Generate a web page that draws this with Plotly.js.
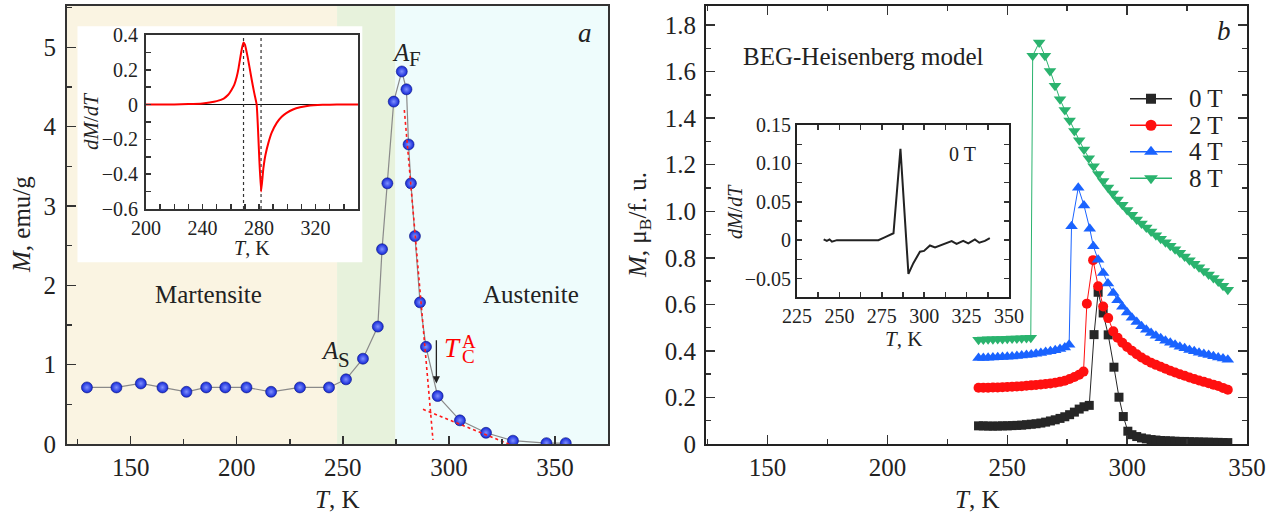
<!DOCTYPE html>
<html><head><meta charset="utf-8">
<script src="https://cdn.plot.ly/plotly-3.0.1.min.js"></script>
<style>html,body{margin:0;padding:0;background:#fff;} #chart{width:1277px;height:513px;}</style>
</head><body><div id="chart"></div>
<script>
// ---------- Panel a: measured M(T) ----------
const tA = [129.4,143.3,154.8,165,176.3,185.6,194.6,204.6,216.2,229.8,243.5,251.5,259.5,266.5,268.5,271,274,277.8,280,281,282.1,284,286.4,289.2,294.7,305.2,317.5,330.2,346,355.1];
const mA = [0.713,0.713,0.763,0.713,0.658,0.713,0.713,0.713,0.658,0.713,0.713,0.815,1.075,1.48,2.455,3.285,4.315,4.695,4.47,3.775,3.285,2.62,1.785,1.225,0.605,0.298,0.141,0.042,0.011,0.011];
// phase regions (K)
const regionBounds = [120, 247.3, 274.8, 375];
const regionColors = ['rgb(250,244,226)','rgb(231,242,220)','rgb(238,252,252)'];
// tangent (dashed) lines for Tc construction
const tangent1T = [279, 292.5], tangent1M = [4.21, 0.05];
const tangent2T = [287.8, 335.2], tangent2M = [0.437, -0.075];
// inset a: dM/dT
const tD = [200,220,230,240,245,250,255,258,260.6,262.5,264.2,265.5,266.5,267.8,269,270,272,274.8,276.5,278.3,281.4,283,284.5,286.6,289,292.5,296,299.5,304,309,314,318.4,325,335,350];
const dD = [0,0.001,0.003,0.007,0.012,0.02,0.035,0.055,0.086,0.115,0.16,0.21,0.26,0.32,0.357,0.345,0.27,0.143,0.07,0,-0.5,-0.37,-0.29,-0.22,-0.16,-0.105,-0.07,-0.048,-0.028,-0.015,-0.008,-0.004,-0.001,0,0];
const markLinesT = [269, 281.4];

// ---------- Panel b: BEG-Heisenberg model ----------
const fieldLabels = ['0 T','2 T','4 T','8 T'];
const T0 = [238,240,242,244,246,248,250,252,254,256,258,260,262,264,266,268,270,272,274,276,278,280,282,284.2,286.2,287.9,290,292.1,294.5,296.6,298.4,300.3,302,304,306,308,310,312,314,316,318,320,322,324,326,328,330,332,334,336,338,340,342];
const M0 = [0.078,0.078,0.077,0.077,0.077,0.078,0.078,0.079,0.080,0.081,0.083,0.085,0.087,0.090,0.094,0.099,0.104,0.110,0.117,0.126,0.137,0.150,0.160,0.166,0.47,0.652,0.563,0.469,0.33,0.201,0.118,0.055,0.04,0.032,0.026,0.022,0.019,0.017,0.015,0.014,0.013,0.012,0.011,0.011,0.010,0.009,0.009,0.008,0.008,0.007,0.007,0.006,0.006];
const T2 = [238,240,242,244,246,248,250,252,254,256,258,260,262,264,266,268,270,272,274,276,278,280,281.8,283.2,285.8,287.9,290,292.1,294.2,296,298,300,302,304,306,308,310,312,314,316,318,320,322,324,326,328,330,332,334,336,338,340,342];
const M2 = [0.242,0.242,0.242,0.243,0.243,0.244,0.245,0.246,0.247,0.248,0.25,0.252,0.254,0.256,0.258,0.260,0.263,0.267,0.272,0.279,0.288,0.298,0.311,0.603,0.79,0.678,0.591,0.541,0.484,0.457,0.435,0.417,0.401,0.386,0.372,0.36,0.349,0.34,0.332,0.323,0.315,0.307,0.3,0.293,0.286,0.279,0.273,0.267,0.261,0.255,0.249,0.241,0.233];
const T4 = [238,240,242,244,246,248,250,252,254,256,258,260,262,264,266,268,270,272,274,275.8,276.8,279.6,282,284.4,285.9,287.9,290,292,294.2,296,298,300,302,304,306,308,310,312,314,316,318,320,322,324,326,328,330,332,334,336,338,340,342];
const M4 = [0.37,0.37,0.371,0.372,0.373,0.374,0.375,0.376,0.378,0.38,0.382,0.385,0.388,0.391,0.395,0.399,0.403,0.408,0.415,0.426,0.936,1.101,1.025,0.925,0.85,0.792,0.735,0.69,0.649,0.618,0.59,0.565,0.543,0.524,0.506,0.491,0.477,0.465,0.454,0.444,0.435,0.426,0.418,0.411,0.404,0.398,0.392,0.387,0.382,0.377,0.372,0.367,0.362];
const T8 = [238,240,242,244,246,248,250,252,254,256,258,259.8,260.6,263.3,265.7,267.8,269.9,272,274,276,278,280,282,284,286,288,290,292,294,296,298,300,302,304,306,308,310,312,314,316,318,320,322,324,326,328,330,332,334,336,338,340,342];
const M8 = [0.448,0.449,0.45,0.45,0.451,0.451,0.452,0.453,0.453,0.454,0.455,0.456,1.668,1.725,1.668,1.603,1.539,1.481,1.435,1.39,1.345,1.305,1.265,1.228,1.193,1.16,1.13,1.102,1.076,1.051,1.028,1.005,0.985,0.965,0.947,0.93,0.913,0.897,0.882,0.867,0.852,0.837,0.822,0.806,0.79,0.775,0.759,0.743,0.728,0.713,0.698,0.68,0.663];
const seriesT = [T0,T2,T4,T8], seriesM = [M0,M2,M4,M8];
const seriesColors = ['#262626','#ff1010','#1a63ff','#2ab36e'];
const seriesSymbols = ['square','circle','triangle-up','triangle-down'];
const seriesSizes = [9,10,11,11];
// inset b: dM/dT at 0 T
const tdB = [240.7,242.6,244.2,245.6,248.5,255,265,273,277,281.9,286,290.7,293.6,297.5,299.9,303.4,306.4,309.3,313.2,316.2,319.1,323,326,329.9,332.5,335.8,338.7];
const dB = [0.001,-0.001,0.001,-0.002,0,0,0,0,0.004,0.009,0.119,-0.044,-0.030,-0.015,-0.014,-0.007,-0.0095,-0.007,-0.0034,-0.0013,-0.005,-0.001,-0.0043,0.001,-0.0034,-0.001,0.0026];

// ---------- layout helpers ----------
const W = 1277, H = 513;
const FONT = 'Liberation Serif, Times New Roman, serif';
const TXT = '#222';
const px = x => x / W, py = y => (H - y) / H;
const yMaxA = 5.52;

function ax(o) {
  return Object.assign({
    showline: true, linecolor: '#333', linewidth: 2, ticks: 'inside', tickcolor: '#333',
    tickwidth: 1.5, showgrid: false, zeroline: false, fixedrange: true,
    tickfont: {family: FONT, size: 25, color: TXT}
  }, o);
}

const traces = [];
// panel a main
traces.push({x: tA, y: mA, xaxis: 'x', yaxis: 'y', type: 'scatter', mode: 'lines+markers',
  line: {color: '#8a8a8a', width: 1.2},
  marker: {size: 11, color: '#1226d6', line: {width: 0.6, color: '#0a1480'}, gradient: {type: 'radial', color: '#7f90ff'}}});
traces.push({x: tangent1T, y: tangent1M, xaxis: 'x', yaxis: 'y', mode: 'lines', line: {color: '#ff1a1a', width: 1.6, dash: 'dot'}});
traces.push({x: tangent2T, y: tangent2M, xaxis: 'x', yaxis: 'y', mode: 'lines', line: {color: '#ff1a1a', width: 1.6, dash: 'dot'}});
// inset a
markLinesT.forEach(t => traces.push({x: [t, t], y: [-0.6, 0.4], xaxis: 'x2', yaxis: 'y2', mode: 'lines', line: {color: '#333', width: 1.2, dash: 'dot'}}));
traces.push({x: tD, y: dD, xaxis: 'x2', yaxis: 'y2', mode: 'lines', line: {color: '#ff0000', width: 2, shape: 'spline', smoothing: 0.5}});
// panel b
for (let i = 0; i < 4; i++) {
  traces.push({x: seriesT[i], y: seriesM[i], name: fieldLabels[i], xaxis: 'x3', yaxis: 'y3', mode: 'lines+markers',
    line: {color: seriesColors[i], width: 1}, marker: {symbol: seriesSymbols[i], size: seriesSizes[i], color: seriesColors[i]}});
}
// inset b
traces.push({x: tdB, y: dB, xaxis: 'x4', yaxis: 'y4', mode: 'lines', line: {color: '#222', width: 2}});
// legend key for panel b (own hidden axes: one row per field, key line spans 0..1)
fieldLabels.forEach((lab, i) => {
  traces.push({x: [0, 1], y: [i, i], xaxis: 'x5', yaxis: 'y5', mode: 'lines', line: {color: seriesColors[i], width: 1.5}, hoverinfo: 'skip'});
  traces.push({x: [0.5], y: [i], xaxis: 'x5', yaxis: 'y5', mode: 'markers', marker: {symbol: seriesSymbols[i], size: seriesSizes[i] + 1, color: seriesColors[i]}, hoverinfo: 'skip'});
});

const shapes = [];
for (let i = 0; i < 3; i++) {
  shapes.push({type: 'rect', xref: 'x', yref: 'y', x0: regionBounds[i], x1: regionBounds[i+1], y0: 0, y1: yMaxA, line: {width: 0}, fillcolor: regionColors[i], layer: 'below'});
}
// white backdrop of inset a
shapes.push({type: 'rect', xref: 'x', yref: 'y', x0: 124.95, x1: 259.2, y0: 2.292, y1: 5.265, line: {width: 0}, fillcolor: '#ffffff', layer: 'below'});

function ann(text, x, y, xref, yref, size, extra) {
  return Object.assign({text, x, y, xref, yref, showarrow: false, xanchor: 'center', yanchor: 'middle',
    font: {family: FONT, size, color: TXT}}, extra || {});
}
const red = s => ({font: {family: FONT, size: s, color: '#ff0000'}});
const annotations = [
  ann('Martensite', 186.5, 1.88, 'x', 'y', 25),
  ann('Austenite', 338.7, 1.88, 'x', 'y', 25),
  ann('<i>A</i>', 277.5, 4.94, 'x', 'y', 25),
  ann('F', 283.9, 4.85, 'x', 'y', 21),
  ann('<i>A</i>', 243.9, 1.174, 'x', 'y', 25),
  ann('S', 250.5, 1.058, 'x', 'y', 21),
  ann('<i>T</i>', 301.6, 1.215, 'x', 'y', 27, red(27)),
  ann('A', 309.4, 1.29, 'x', 'y', 19, red(19)),
  ann('C', 309.4, 1.1, 'x', 'y', 19, red(19)),
  ann('<i>a</i>', 364.3, 5.18, 'x', 'y', 27),
  {x: 294.1, y: 0.764, ax: 294.1, ay: 1.414, axref: 'x', ayref: 'y', xref: 'x', yref: 'y', text: ' ', showarrow: true, arrowhead: 2, arrowsize: 1.1, arrowwidth: 1.3, arrowcolor: '#222'},
  ann('BEG-Heisenberg model', 189.8, 1.665, 'x3', 'y3', 25),
  ann('<i>b</i>', 340.4, 1.774, 'x3', 'y3', 27),
  ann('0 T', 322.8, 0.112, 'x4', 'y4', 20),
  // axis titles
  ann('<i>T</i>, K', px(337.5), py(499), 'paper', 'paper', 25),
  ann('<i>T</i>, K', px(976.5), py(499), 'paper', 'paper', 25),
  ann('<i>M</i>, emu/g', px(21), py(225), 'paper', 'paper', 25, {textangle: -90}),
  ann('<i>M</i>, μ<sub>B</sub>/f. u.', px(639), py(225), 'paper', 'paper', 25, {textangle: -90}),
  ann('<i>T</i>, K', px(252), py(248), 'paper', 'paper', 20),
  ann('<i>dM</i>/<i>dT</i>', px(91), py(122), 'paper', 'paper', 21, {textangle: -90}),
  ann('<i>T</i>, K', px(903), py(339), 'paper', 'paper', 21),
  ann('<i>dM</i>/<i>dT</i>', px(735), py(212), 'paper', 'paper', 20, {textangle: -90})
];
// legend labels
fieldLabels.forEach((lab, i) => annotations.push(ann(lab, 1.36, i, 'x5', 'y5', 25, {xanchor: 'left'})));

const minorIn = (dtick, len, tick0) => ({dtick, tick0: tick0 || 0, ticklen: len, ticks: 'inside', tickcolor: '#333', tickwidth: 1.5});
const smallFont = {family: FONT, size: 20, color: TXT};

const layout = {
  width: W, height: H, margin: {l: 0, r: 0, t: 0, b: 0},
  paper_bgcolor: '#ffffff', plot_bgcolor: 'rgba(0,0,0,0)',
  font: {family: FONT, color: TXT},
  showlegend: false,
  xaxis: ax({domain: [px(67), px(608)], range: [120, 375], anchor: 'y', mirror: true, dtick: 50, tick0: 0, ticklen: 8,
    minor: minorIn(25, 5)}),
  yaxis: ax({domain: [py(444), py(6)], range: [0, yMaxA], anchor: 'x', mirror: true, dtick: 1, tick0: 0, ticklen: 9,
    ticklabelstandoff: 4, minor: minorIn(0.5, 5)}),
  xaxis2: ax({domain: [px(146), px(358)], range: [200, 350], anchor: 'y2', mirror: true, dtick: 40, tick0: 200, ticklen: 5,
    tickfont: smallFont, minor: minorIn(10, 5)}),
  yaxis2: ax({domain: [py(209), py(35)], range: [-0.6, 0.4], anchor: 'x2', mirror: true, tickmode: 'array',
    tickvals: [-0.6,-0.4,-0.2,0,0.2,0.4], ticktext: ['−0.6','−0.4','−0.2','0','0.2','0.4'], ticklen: 5,
    zeroline: true, zerolinecolor: '#111', zerolinewidth: 1.5, ticklabelstandoff: 2,
    tickfont: smallFont, minor: minorIn(0.1, 5, 0)}),
  xaxis3: ax({domain: [px(706), px(1247)], range: [124.3, 350.01], anchor: 'y3', mirror: 'ticks', dtick: 50, tick0: 0, ticklen: 9,
    linecolor: '#222', minor: minorIn(25, 5)}),
  yaxis3: ax({domain: [py(444), py(6)], range: [0, 1.882], anchor: 'x3', mirror: 'ticks', tickmode: 'array',
    tickvals: [0,0.2,0.4,0.6,0.8,1.0,1.2,1.4,1.6,1.8], ticktext: ['0','0.2','0.4','0.6','0.8','1.0','1.2','1.4','1.6','1.8'],
    ticklen: 9, linecolor: '#222', ticklabelstandoff: 3, minor: minorIn(0.1, 5, 0)}),
  xaxis4: ax({domain: [px(797), px(1009)], range: [225, 350.01], anchor: 'y4', mirror: 'ticks', dtick: 25, tick0: 0, ticklen: 5,
    linecolor: '#222', tickfont: smallFont, minor: minorIn(12.5, 5)}),
  yaxis4: ax({domain: [py(297), py(125)], range: [-0.0741, 0.1501], anchor: 'x4', mirror: 'ticks', tickmode: 'array',
    tickvals: [-0.05,0,0.05,0.1,0.15], ticktext: ['−0.05','0','0.05','0.10','0.15'], ticklen: 5,
    linecolor: '#222', tickfont: smallFont, minor: minorIn(0.025, 5, 0)}),
  xaxis5: {domain: [px(1130), px(1235)], range: [0, 105 / 42], anchor: 'y5', visible: false, fixedrange: true},
  yaxis5: {domain: [py(191.5), py(85.5)], range: [3.5, -0.5], anchor: 'x5', visible: false, fixedrange: true},
  shapes, annotations
};

Plotly.newPlot('chart', traces, layout, {staticPlot: true, displayModeBar: false});
</script></body></html>
